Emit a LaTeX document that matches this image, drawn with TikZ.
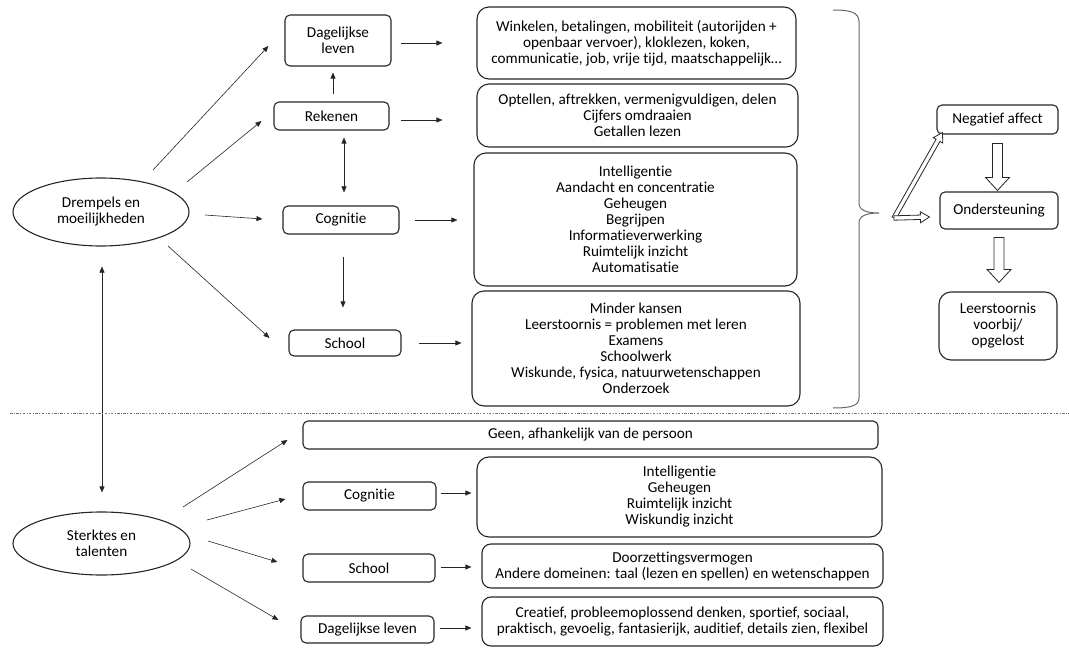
\documentclass[tikz,border=0pt]{standalone}
\usepackage{fontspec}
\setmainfont{Carlito}[Ligatures=NoCommon]
\usetikzlibrary{arrows.meta,shapes.geometric,calc}
\newcommand\blockarrow[6][]{%
  \coordinate (bah) at ($(#3)!#6!(#2)$);
  \draw[blk,#1] ($(#2)!#4!90:(#3)$) -- ($(bah)!#4!90:(#3)$) -- ($(bah)!#5!90:(#3)$) -- (#3)
     -- ($(bah)!#5!-90:(#3)$) -- ($(bah)!#4!-90:(#3)$) -- ($(#2)!#4!-90:(#3)$) -- cycle;}
\begin{document}
\begin{tikzpicture}[x=1pt,y=-1pt,
  font=\fontsize{15.2}{16}\selectfont,
  box/.style={draw=black!85, line width=1.1pt, rounded corners=5pt, align=center, inner sep=0pt, text=black},
  bigbox/.style={box, rounded corners=12pt},
  oval/.style={draw=black!85, ellipse, line width=1.1pt, align=center, inner sep=0pt, text=black},
  arr/.style={draw=black!85, line width=0.6pt, -{Triangle[length=6pt,width=5pt]}},
  darr/.style={draw=black!85, line width=0.6pt, {Triangle[length=6pt,width=5pt]}-{Triangle[length=6pt,width=5pt]}},
  blk/.style={draw=black!85, line width=0.8pt, fill=white, line join=miter},
  ]
\useasboundingbox (0,0) rectangle (1069,650);

% upper part
\node[box, minimum width=106pt, minimum height=51pt] (dag) at (338,40.5) {Dagelijkse\\leven};
\node[box, minimum width=115pt, minimum height=28pt] (rek) at (331.5,116) {Rekenen};
\node[box, minimum width=116pt, minimum height=28pt] (cog) at (341,220) {Cognitie};
\node[box, minimum width=112pt, minimum height=26pt] (sch) at (345,343) {School};
\node[oval, minimum width=176pt, minimum height=68pt] (drem) at (101,212) {Drempels en\\moeilijkheden};

\node[bigbox, minimum width=319pt, minimum height=72pt] (b1) at (636.5,43)
  {Winkelen, betalingen, mobiliteit (autorijden +\\openbaar vervoer), kloklezen, koken,\\communicatie, job, vrije tijd, maatschappelijk\ldots};
\node[bigbox, minimum width=321pt, minimum height=63pt] (b2) at (637.5,115.5)
  {Optellen, aftrekken, vermenigvuldigen, delen\\Cijfers omdraaien\\Getallen lezen};
\node[bigbox, minimum width=323pt, minimum height=133pt] (b3) at (635.5,219.5)
  {Intelligentie\\Aandacht en concentratie\\Geheugen\\Begrijpen\\Informatieverwerking\\Ruimtelijk inzicht\\Automatisatie};
\node[bigbox, minimum width=328pt, minimum height=115pt] (b4) at (636,348.5)
  {Minder kansen\\Leerstoornis = problemen met leren\\Examens\\Schoolwerk\\Wiskunde, fysica, natuurwetenschappen\\Onderzoek};

\node[box, minimum width=121pt, minimum height=29pt] (neg) at (997.5,119.5) {Negatief affect};
\node[box, minimum width=118pt, minimum height=37pt] (ond) at (999,210.5) {Ondersteuning};
\node[bigbox, minimum width=118pt, minimum height=68pt] (leer) at (998,326) {Leerstoornis\\voorbij/\\opgelost};

% lower part
\node[oval, minimum width=177pt, minimum height=63pt] (ster) at (101.5,543.5) {Sterktes en\\talenten};
\node[box, minimum width=575pt, minimum height=28pt] (geen) at (590.5,435) {Geen, afhankelijk van de persoon};
\node[box, minimum width=133pt, minimum height=28pt] (cog2) at (369.5,496) {Cognitie};
\node[box, minimum width=132pt, minimum height=28pt] (sch2) at (369,568) {School};
\node[box, minimum width=133pt, minimum height=27pt] (dag2) at (367.5,629.5) {Dagelijkse leven};
\node[bigbox, minimum width=405pt, minimum height=80pt] (i2) at (679.5,497)
  {Intelligentie\\Geheugen\\Ruimtelijk inzicht\\Wiskundig inzicht};
\node[box, rounded corners=9pt, minimum width=401pt, minimum height=44pt] (d2) at (682.5,566)
  {Doorzettingsvermogen\\Andere domeinen: taal (lezen en spellen) en wetenschappen};
\node[box, rounded corners=9pt, minimum width=401pt, minimum height=49pt] (c2) at (682.5,621.5)
  {Creatief, probleemoplossend denken, sportief, sociaal,\\praktisch, gevoelig, fantasierijk, auditief, details zien, flexibel};

% connectors upper
\draw[arr] ([shift={(52,-42)}]drem.center) -- ([shift={(-16,5.5)}]dag.west);
\draw[arr] ([shift={(86,-30)}]drem.center) -- ([shift={(-12,5)}]rek.west);
\draw[arr] ([shift={(104,3)}]drem.center) -- ([shift={(-20,-1)}]cog.west);
\draw[arr] ([shift={(67,34)}]drem.center) -- ([shift={(-19,-5)}]sch.west);

\draw[arr, shorten <=9pt, shorten >=34pt] ([shift={(0,2.5)}]dag.east) -- ([shift={(0,2.5)}]dag.east -| b1.west);
\draw[arr, shorten <=11pt, shorten >=34pt] ([shift={(0,4)}]rek.east) -- ([shift={(0,4)}]rek.east -| b2.west);
\draw[arr, shorten <=15pt, shorten >=16pt] (cog.east) -- (cog.east -| b3.west);
\draw[arr, shorten <=17pt, shorten >=10pt] (sch.east) -- (sch.east -| b4.west);

\draw[arr, shorten <=7pt, shorten >=6pt] ([xshift=1.5pt]rek.north) -- ([xshift=1.5pt]rek.north |- dag.south);
\draw[darr, shorten <=7pt, shorten >=13pt] ([xshift=3pt]cog.north |- rek.south) -- ([xshift=3pt]cog.north);
\draw[arr, shorten <=22pt, shorten >=22pt] ([xshift=2pt]cog.south) -- ([xshift=2pt]cog.south |- sch.north);

\draw[darr, shorten <=20pt, shorten >=19pt] ([xshift=1pt]drem.south) -- ([xshift=0.5pt]ster.north);

% connectors lower
\draw[arr] ([shift={(81.5,-36.5)}]ster.center) -- ([shift={(-15,5)}]geen.west);
\draw[arr] ([shift={(105.5,-23.5)}]ster.center) -- ([shift={(-17,3)}]cog2.west);
\draw[arr] ([shift={(106.5,-2.5)}]ster.center) -- ([shift={(-25,-6)}]sch2.west);
\draw[arr] ([shift={(89.5,25.5)}]ster.center) -- ([shift={(-22,-9.5)}]dag2.west);

\draw[arr, shorten <=4pt, shorten >=5pt] ([shift={(0,-3)}]cog2.east) -- ([shift={(0,-3)}]cog2.east -| i2.west);
\draw[arr, shorten <=5pt, shorten >=10pt] ([shift={(0,-1)}]sch2.east) -- ([shift={(0,-1)}]sch2.east -| d2.west);
\draw[arr, shorten <=5pt, shorten >=10pt] ([shift={(0,-1.5)}]dag2.east) -- ([shift={(0,-1.5)}]dag2.east -| c2.west);

% separator
\draw[black!55, line width=0.6pt, dash pattern=on 2.5pt off 1.5pt on 0.8pt off 1.5pt] (10,413) -- (1069,413);

% brace
\draw[black!60, line width=1pt] (833,10) .. controls (850,10) and (859,12) .. (859,22) -- (859,203)
  .. controls (859,210) and (866,213) .. (879,213) .. controls (866,213) and (859,216) .. (859,223)
  -- (859,398) .. controls (859,406) and (850,408) .. (833,408);

% block arrows
\coordinate (bt) at (894,218);
\coordinate (negend) at ([shift={(6,-2)}]neg.south west);
\coordinate (ondend) at ([shift={(-10,6.5)}]ond.west);
\blockarrow{bt}{negend}{2.2pt}{5.5pt}{9pt}
\blockarrow{bt}{ondend}{2.2pt}{5.5pt}{9pt}
\coordinate (n1) at ([shift={(0,9)}]neg.south);
\coordinate (n2) at ([shift={(0,-1)}]neg.south |- ond.north);
\blockarrow{n1}{n2}{5pt}{12pt}{13pt}
\coordinate (o1) at ([shift={(0,8)}]ond.south);
\coordinate (o2) at ([shift={(0,-9)}]ond.south |- leer.north);
\blockarrow{o1}{o2}{5pt}{12pt}{13pt}
\end{tikzpicture}
\end{document}
